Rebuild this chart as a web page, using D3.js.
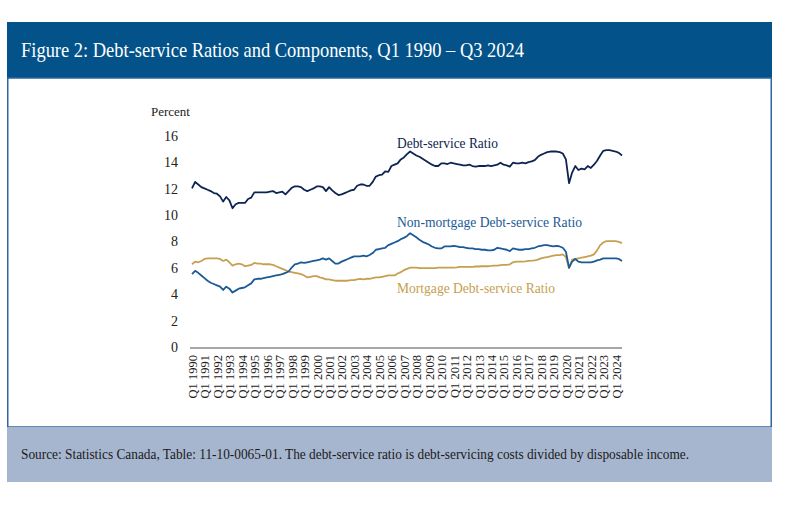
<!DOCTYPE html>
<html>
<head>
<meta charset="utf-8">
<script src="https://cdn.jsdelivr.net/npm/d3@7"></script>
<style>
  html, body { margin: 0; padding: 0; background: #ffffff; }
  svg { display: block; }
  text { font-family: "Liberation Serif", "Times New Roman", serif; }
</style>
</head>
<body>
<svg id="chart" width="800" height="509"></svg>
<script>
// ---------- DATA (quarterly, Q1 1990 – Q3 2024) ----------
const yearLabels = ["1990","1991","1992","1993","1994","1995","1996","1997","1998","1999",
  "2000","2001","2002","2003","2004","2005","2006","2007","2008","2009",
  "2010","2011","2012","2013","2014","2015","2016","2017","2018","2019",
  "2020","2021","2022","2023","2024"];
const tickLabels = ["Q1 1990","Q1 1991","Q1 1992","Q1 1993","Q1 1994","Q1 1995","Q1 1996","Q1 1997","Q1 1998","Q1 1999",
  "Q1 2000","Q1 2001","Q1 2002","Q1 2003","Q1 2004","Q1 2005","Q1 2006","Q1 2007","Q1 2008","Q1 2009",
  "Q1 2010","Q1 2011","Q1 2012","Q1 2013","Q1 2014","Q1 2015","Q1 2016","Q1 2017","Q1 2018","Q1 2019",
  "Q1 2020","Q1 2021","Q1 2022","Q1 2023","Q1 2024"];
const yTicks = [0, 2, 4, 6, 8, 10, 12, 14, 16];

const debtServiceRatio = [
  12.1,12.6,12.4,12.2,   12.1,12.0,11.9,11.75,  11.7,11.5,11.1,11.45,  11.2,10.6,10.9,11.0,
  11.0,11.0,11.3,11.4,   11.8,11.8,11.8,11.8,   11.8,11.85,11.9,11.75, 11.8,11.85,11.65,11.9,
  12.15,12.25,12.25,12.2, 12.0,11.9,12.0,12.1,  12.25,12.25,12.2,11.9, 12.2,11.95,11.75,11.6,
  11.65,11.75,11.85,11.95, 12.0,12.3,12.4,12.4, 12.3,12.3,12.6,13.0,   13.1,13.15,13.4,13.35,
  13.8,13.9,14.0,14.3,   14.45,14.7,14.9,14.75, 14.6,14.5,14.35,14.2,  14.05,13.9,13.8,13.8,
  14.0,14.0,13.95,14.05, 14.0,13.95,13.9,13.85, 13.85,13.9,13.8,13.75, 13.8,13.8,13.8,13.85,
  13.8,13.85,13.9,14.05, 13.9,13.85,13.75,14.05, 14.0,14.0,14.05,14.0, 14.1,14.15,14.25,14.5,
  14.65,14.75,14.85,14.9, 14.9,14.9,14.85,14.75, 14.3,12.5,13.3,13.8,  13.5,13.6,13.55,13.8,
  13.65,13.9,14.2,14.6,  14.95,15.0,15.0,14.95, 14.9,14.8,14.6
];
const nonMortgageRatio = [
  5.6,5.85,5.7,5.5,     5.3,5.1,4.95,4.85,    4.75,4.65,4.4,4.65,   4.5,4.2,4.35,4.5,
  4.55,4.6,4.75,4.9,    5.2,5.25,5.25,5.3,    5.35,5.4,5.45,5.5,    5.55,5.6,5.7,5.8,
  6.1,6.35,6.4,6.5,     6.45,6.5,6.55,6.6,    6.65,6.7,6.8,6.7,     6.8,6.6,6.4,6.4,
  6.55,6.65,6.75,6.85,  6.95,6.95,6.95,7.0,   6.95,7.05,7.2,7.45,   7.5,7.55,7.6,7.8,
  7.9,8.0,8.1,8.25,     8.35,8.5,8.7,8.55,    8.4,8.2,8.05,7.95,    7.85,7.7,7.6,7.55,
  7.55,7.7,7.7,7.7,     7.75,7.7,7.65,7.65,   7.6,7.55,7.55,7.5,    7.5,7.45,7.45,7.4,
  7.4,7.45,7.6,7.55,    7.5,7.45,7.35,7.55,   7.5,7.45,7.45,7.5,    7.5,7.55,7.6,7.7,
  7.75,7.8,7.8,7.75,    7.7,7.75,7.7,7.6,     7.3,6.1,6.55,6.75,    6.55,6.5,6.5,6.5,
  6.5,6.55,6.65,6.7,    6.8,6.8,6.8,6.8,      6.8,6.75,6.6
];
const mortgageRatio = [
  6.35,6.55,6.5,6.6,    6.75,6.8,6.8,6.8,     6.8,6.75,6.6,6.7,     6.5,6.25,6.35,6.4,
  6.35,6.2,6.25,6.3,    6.45,6.4,6.4,6.35,    6.35,6.35,6.3,6.2,    6.1,6.0,5.9,5.8,
  5.75,5.7,5.65,5.6,    5.5,5.35,5.4,5.45,    5.45,5.35,5.3,5.2,    5.2,5.15,5.1,5.1,
  5.1,5.1,5.1,5.15,     5.15,5.2,5.25,5.2,    5.25,5.25,5.3,5.35,   5.35,5.4,5.45,5.5,
  5.5,5.5,5.65,5.75,    5.9,6.0,6.1,6.1,      6.1,6.05,6.05,6.05,   6.05,6.05,6.05,6.1,
  6.1,6.1,6.1,6.1,      6.1,6.12,6.15,6.15,   6.15,6.15,6.15,6.18,  6.18,6.2,6.2,6.2,
  6.22,6.25,6.25,6.28,  6.3,6.3,6.35,6.5,     6.55,6.55,6.55,6.57,  6.6,6.62,6.65,6.7,
  6.8,6.85,6.9,6.95,    7.0,7.05,7.05,7.1,    6.9,6.05,6.7,6.75,    6.8,6.85,6.9,6.95,
  7.0,7.1,7.4,7.8,      8.0,8.1,8.1,8.1,      8.1,8.05,7.95
];

const seriesNames = ["Debt-service Ratio", "Non-mortgage Debt-service Ratio", "Mortgage Debt-service Ratio"];
const titleText = "Figure 2: Debt-service Ratios and Components, Q1 1990 \u2013 Q3 2024";
const sourceText = "Source: Statistics Canada, Table: 11-10-0065-01. The debt-service ratio is debt-servicing costs divided by disposable income.";

// ---------- LAYOUT ----------
const svg = d3.select("#chart");
const colors = { dsr: "#0e2450", non: "#1b5a95", mort: "#c6a050" };

// frame
svg.append("rect").attr("x", 7).attr("y", 22).attr("width", 765).attr("height", 56).attr("fill", "#03538a");
svg.append("rect").attr("x", 7.75).attr("y", 78).attr("width", 763.5).attr("height", 349)
  .attr("fill", "#ffffff").attr("stroke", "#2d659f").attr("stroke-width", 1.5);
svg.append("rect").attr("x", 7).attr("y", 427).attr("width", 765).attr("height", 55).attr("fill", "#a7b6cf");

svg.append("text").attr("x", 21).attr("y", 57)
  .attr("fill", "#ffffff").attr("font-size", 21)
  .attr("textLength", 503).attr("lengthAdjust", "spacingAndGlyphs")
  .text(titleText);

svg.append("text").attr("x", 21).attr("y", 459)
  .attr("fill", "#1a1a1a").attr("font-size", 14)
  .attr("textLength", 668).attr("lengthAdjust", "spacingAndGlyphs")
  .text(sourceText);

// ---------- SCALES ----------
const n = debtServiceRatio.length; // 139
const x = d3.scaleLinear().domain([0, n - 1]).range([192, 622]);
const y = d3.scaleLinear().domain([0, 16]).range([348, 137]);

// y axis
const yAxis = svg.append("g").attr("transform", "translate(178,-1)")
  .call(d3.axisLeft(y).tickValues(yTicks).tickSize(0).tickPadding(0).tickFormat(d3.format("d")));
yAxis.select(".domain").remove();
yAxis.selectAll("text").attr("font-size", 14).attr("fill", "#222")
  .style("font-family", "'Liberation Serif', 'Times New Roman', serif");

svg.append("text").attr("x", 151).attr("y", 115.5).attr("font-size", 13).attr("fill", "#222").text("Percent");

// x axis
const tickIdx = tickLabels.map((_, k) => k * 4);
const xAxis = svg.append("g").attr("transform", `translate(0,${y(0)})`)
  .call(d3.axisBottom(x).tickValues(tickIdx).tickSize(0).tickFormat((d, k) => tickLabels[k]));
xAxis.select(".domain").attr("stroke", "#8a8a8a").attr("stroke-width", 1.5)
  .attr("d", `M190,0H622`);
xAxis.selectAll("text")
  .attr("font-size", 12.5).attr("fill", "#222")
  .style("font-family", "'Liberation Serif', 'Times New Roman', serif")
  .attr("text-anchor", "end")
  .attr("dy", "0.35em")
  .attr("transform", "translate(0,7) rotate(-90)")
  .attr("x", 0).attr("y", 0);

// ---------- LINES ----------
const line = d3.line().x((d, i) => x(i)).y(d => y(d)).curve(d3.curveLinear);
const series = [
  { values: mortgageRatio, color: colors.mort },
  { values: nonMortgageRatio, color: colors.non },
  { values: debtServiceRatio, color: colors.dsr }
];
svg.append("g").selectAll("path").data(series).join("path")
  .attr("d", d => line(d.values))
  .attr("fill", "none").attr("stroke", d => d.color)
  .attr("stroke-width", 1.8).attr("stroke-linejoin", "round");

// series labels
const labelData = [
  { text: seriesNames[0], color: colors.dsr, yv: 15.5, w: 101 },
  { text: seriesNames[1], color: colors.non, yv: 9.5, w: 185 },
  { text: seriesNames[2], color: colors.mort, yv: 4.5, w: 158 }
];
svg.append("g").selectAll("text").data(labelData).join("text")
  .attr("x", 397).attr("y", d => y(d.yv) + 4.5)
  .attr("font-size", 14).attr("fill", d => d.color)
  .attr("textLength", d => d.w).attr("lengthAdjust", "spacingAndGlyphs")
  .text(d => d.text);
</script>
</body>
</html>
